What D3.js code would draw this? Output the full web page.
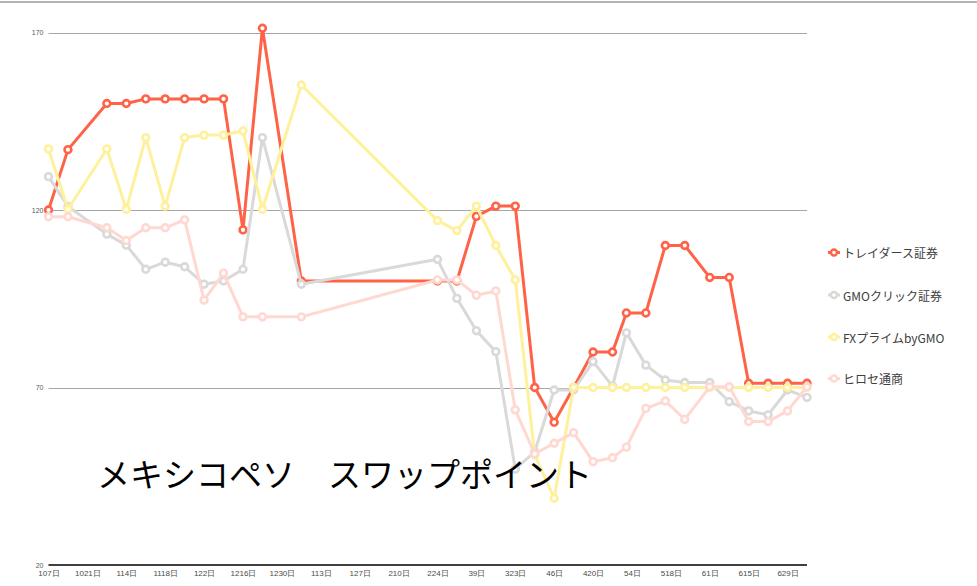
<!DOCTYPE html>
<html lang="ja">
<head>
<meta charset="utf-8">
<title>メキシコペソ スワップポイント</title>
<script src="https://cdn.jsdelivr.net/npm/d3@7"></script>
<style>
  html, body { margin: 0; padding: 0; background: #fff; }
  svg { display: block; font-family: "Noto Sans CJK JP", "Noto Sans", sans-serif; }
</style>
</head>
<body>
<div id="chart"></div>
<script>
// ── データ ───────────────────────────────────────────────
const dates = [
  '2019-10-07', '2019-10-14', '2019-10-28', '2019-11-04', '2019-11-11',
  '2019-11-18', '2019-11-25', '2019-12-02', '2019-12-09', '2019-12-16',
  '2019-12-23', '2020-01-06', '2020-02-24', '2020-03-02', '2020-03-09',
  '2020-03-16', '2020-03-23', '2020-03-30', '2020-04-06', '2020-04-13',
  '2020-04-20', '2020-04-27', '2020-05-02', '2020-05-09', '2020-05-16',
  '2020-05-23', '2020-06-01', '2020-06-08', '2020-06-15', '2020-06-22',
  '2020-06-29', '2020-07-06',
];

const traders = [120, 137, 150, 150, 151.3, 151.3, 151.3, 151.3, 151.3, 114.4,
  171.2, 100, 100, 100, 118.2, 121.1, 121.1, 70, 60.2, 70,
  80, 80, 91, 91, 110, 110, 101, 101, 71.2, 71.2, 71.2, 71.2];

const gmoClick = [129.4, 121, 113.2, 110.1, 103.3, 105.3, 104, 99.1, 100, 103.3,
  140.4, 99.1, 106.1, 95.1, 86, 80.1, 47, 51.9, 69.3, 69.3,
  77.3, 70.4, 85.4, 76.3, 72.1, 71.4, 71.4, 66, 63.4, 62.3, 69.3, 67.2];

const fxPrime = [137.2, 120.2, 137.2, 120.2, 140.4, 121.1, 140.4, 141.1, 141.1, 142.3,
  120.2, 155.2, 117, 114.2, 121.1, 110, 100.3, 51, 38.8, 70,
  70, 70, 70, 70, 70, 70, 70, 70, 70, 70, 70, 70];

const hirose = [118.1, 118.1, 115, 111.4, 115, 115, 117.2, 94.6, 102.2, 89.9,
  89.9, 89.9, 100.3, 100.3, 96, 97.2, 63.7, 51.3, 54.3, 57.3,
  49.1, 50.2, 53.2, 64.1, 66.2, 61, 70.2, 70.2, 60.4, 60.4, 63.4, 70.2];

const seriesNames = ['トレイダース証券', 'GMOクリック証券', 'FXプライムbyGMO', 'ヒロセ通商'];
const seriesValues = [traders, gmoClick, fxPrime, hirose];
const seriesColors = ['#FF6347', '#D9D9D9', '#FFF09C', '#FFD8D2'];

const yTicks = [20, 70, 120, 170];
const title = 'メキシコペソ　スワップポイント';

// ── 描画 ─────────────────────────────────────────────────
const W = 977, H = 586;
const parse = d3.timeParse('%Y-%m-%d');
const dateObjs = dates.map(parse);

const svg = d3.select('#chart').append('svg')
  .attr('width', W).attr('height', H);

// 上端の枠線
svg.append('line')
  .attr('x1', 0).attr('x2', W).attr('y1', 2).attr('y2', 2)
  .attr('stroke', '#9a9a9a').attr('stroke-width', 1.5);

const x = d3.scaleTime()
  .domain([dateObjs[0], dateObjs[dateObjs.length - 1]])
  .range([48.5, 807]);
const y = d3.scaleLinear().domain([20, 170]).range([565, 32.5]);

// グリッド線
svg.append('g')
  .selectAll('line')
  .data(yTicks.filter(v => v !== 20))
  .join('line')
  .attr('x1', 48.5).attr('x2', 807)
  .attr('y1', d => Math.round(y(d)) + 0.5).attr('y2', d => Math.round(y(d)) + 0.5)
  .attr('stroke', '#a6a6a6').attr('stroke-width', 1);

// Y軸ラベル
svg.append('g')
  .attr('transform', 'translate(48.5,0)')
  .call(d3.axisLeft(y).tickValues(yTicks).tickSize(0).tickPadding(5))
  .call(g => g.select('.domain').remove())
  .selectAll('text')
  .attr('fill', '#595959').attr('font-size', 7)
  .attr('font-family', '"Liberation Sans", sans-serif');

// X軸
const xTicks = d3.timeDay.range(dateObjs[0], d3.timeDay.offset(dateObjs[dateObjs.length - 1], 1), 14);
svg.append('g')
  .attr('transform', 'translate(0,565)')
  .call(d3.axisBottom(x).tickValues(xTicks).tickSize(0).tickPadding(5)
    .tickFormat(d3.timeFormat('%-m%-d日')))
  .call(g => g.select('.domain').attr('stroke', '#000').attr('stroke-width', 1.5)
    .attr('d', `M48.5,0H807`))
  .selectAll('text')
  .attr('fill', '#4a4a4a').attr('font-size', 8);

// 系列
const line = d3.line()
  .defined(d => d.v != null)
  .x(d => x(d.date))
  .y(d => y(d.v));

seriesValues.forEach((vals, i) => {
  const data = vals.map((v, j) => ({ date: dateObjs[j], v }))
    .filter(d => d.v != null);
  const g = svg.append('g');
  g.append('path')
    .datum(data)
    .attr('d', line)
    .attr('fill', 'none')
    .attr('stroke', seriesColors[i])
    .attr('stroke-width', 3)
    .attr('stroke-linejoin', 'round');
  g.selectAll('circle')
    .data(data).join('circle')
    .attr('cx', d => x(d.date))
    .attr('cy', d => y(d.v))
    .attr('r', 3.4)
    .attr('fill', '#fff')
    .attr('stroke', seriesColors[i])
    .attr('stroke-width', 2.6);
});

// 凡例
const legendY = [252.5, 295, 337, 378.5];
const legend = svg.append('g');
seriesNames.forEach((name, i) => {
  const lg = legend.append('g').attr('transform', `translate(828,${legendY[i]})`);
  lg.append('line').attr('x1', 0).attr('x2', 12).attr('y1', 0).attr('y2', 0)
    .attr('stroke', seriesColors[i]).attr('stroke-width', 3);
  lg.append('circle').attr('cx', 6).attr('cy', 0).attr('r', 3)
    .attr('fill', '#fff').attr('stroke', seriesColors[i]).attr('stroke-width', 2.4);
  lg.append('text').attr('x', 15).attr('y', 0)
    .attr('dominant-baseline', 'central')
    .attr('font-size', 12).attr('fill', '#404040')
    .text(name);
});

// タイトル
svg.append('text')
  .attr('x', 97).attr('y', 487)
  .attr('font-size', 33).attr('fill', '#000')
  .text(title);
</script>
</body>
</html>
